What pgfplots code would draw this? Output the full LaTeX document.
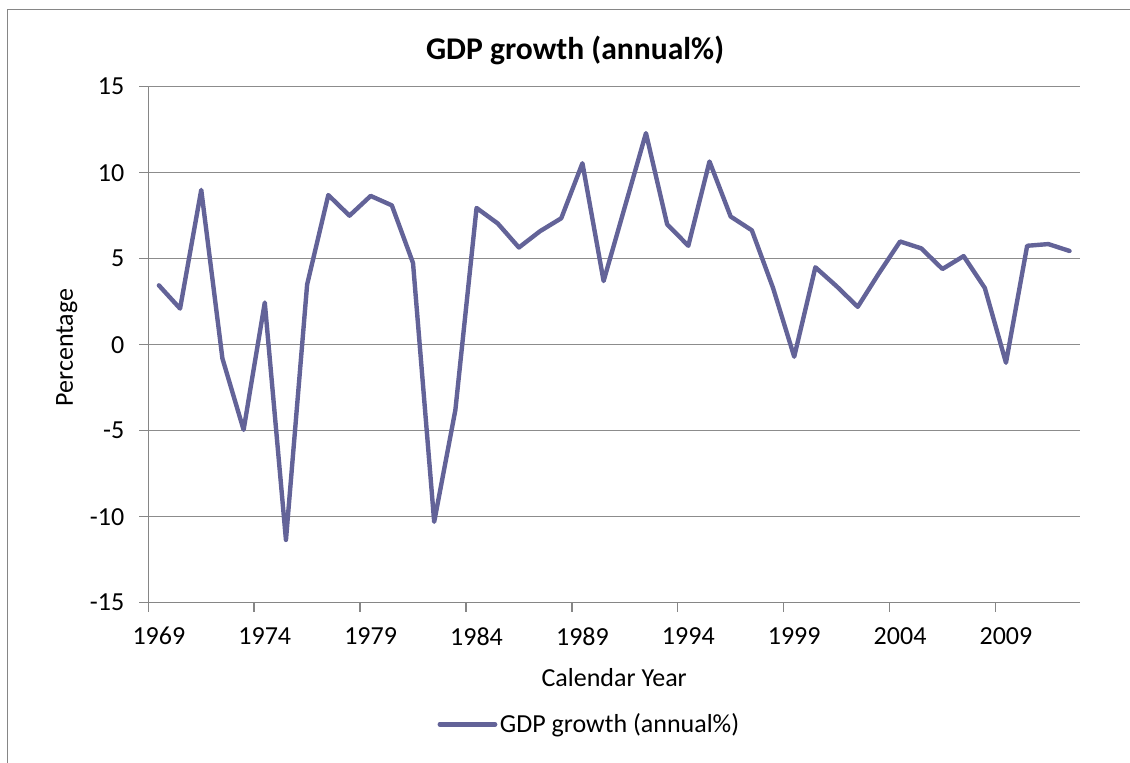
\documentclass[border=0pt]{standalone}
\usepackage{pgfplots}
\pgfplotsset{compat=1.18}
\usepackage{fontspec}
\setmainfont{Carlito}
\definecolor{series}{RGB}{99,99,152}
\definecolor{gridc}{RGB}{140,140,140}
\definecolor{axc}{RGB}{134,134,134}
\pgfplotstableread{
year gdp
1969 3.45
1970 2.1
1971 9.0
1972 -0.8
1973 -4.95
1974 2.45
1975 -11.35
1976 3.5
1977 8.7
1978 7.5
1979 8.65
1980 8.1
1981 4.75
1982 -10.3
1983 -3.8
1984 7.95
1985 7.05
1986 5.65
1987 6.6
1988 7.35
1989 10.55
1990 3.7
1991 8.0
1992 12.3
1993 7.0
1994 5.75
1995 10.65
1996 7.45
1997 6.65
1998 3.3
1999 -0.7
2000 4.5
2001 3.4
2002 2.2
2003 4.15
2004 6.0
2005 5.6
2006 4.4
2007 5.15
2008 3.3
2009 -1.05
2010 5.75
2011 5.85
2012 5.45
}\gdpdata
\begin{document}
\begin{tikzpicture}
\useasboundingbox (0,0) rectangle (565pt,381.5pt);
\draw[axc,line width=0.75pt] (3.75pt,0) -- (3.75pt,376.75pt) -- (565pt,376.75pt);
\begin{axis}[
  at={(74.15pt,80.15pt)}, anchor=south west,
  scale only axis, width=465.9pt, height=258pt,
  xmin=1968.5, xmax=2012.5, ymin=-15, ymax=15,
  ytick={-15,-10,...,15},
  xtick={1968.5,1973.5,...,2008.5},
  xticklabels={},
  extra x ticks={1969,1974,...,2009},
  extra x tick labels={1969,1974,1979,1984,1989,1994,1999,2004,2009},
  extra x tick style={major tick length=0pt},
  axis x line*=bottom, axis y line*=left,
  axis line style={axc, line width=0.75pt},
  tick style={axc, line width=0.75pt},
  tick align=outside, major tick length=4.5pt,
  ymajorgrids, grid style={gridc, line width=0.75pt},
  /pgf/number format/assume math mode=true,
  /pgf/number format/set thousands separator={},
  tick label style={font=\fontsize{13}{15}\selectfont, black},
  xticklabel style={yshift=-8.75pt},
  yticklabel style={xshift=-4pt},
  title={GDP growth (annual\%)},
  every axis title shift=0pt,
  title style={at={(0.458,1.071)}, anchor=center, font=\bfseries\fontsize{15.8}{18}\selectfont},
  xlabel={Calendar Year},
  xlabel style={at={(0.5,-0.146)}, anchor=center, font=\fontsize{13}{15}\selectfont},
  ylabel={Percentage},
  ylabel style={at={(-0.0876,0.4946)}, anchor=center, rotate=0, font=\fontsize{13}{15}\selectfont},
  legend style={at={(0.310,-0.2357)}, anchor=west, draw=none, fill=none, inner sep=0pt,
    font=\fontsize{13}{15}\selectfont, nodes={inner sep=1.3pt}},
  legend image code/.code={\draw[#1] (0pt,0pt) -- (27.7pt,0pt);},
  clip=false,
]
\addplot[series, line width=2.2pt, line join=round, line cap=round, mark=none] table[x=year,y=gdp] {\gdpdata};
\addlegendentry{GDP growth (annual\%)}
\end{axis}
\end{tikzpicture}
\end{document}
